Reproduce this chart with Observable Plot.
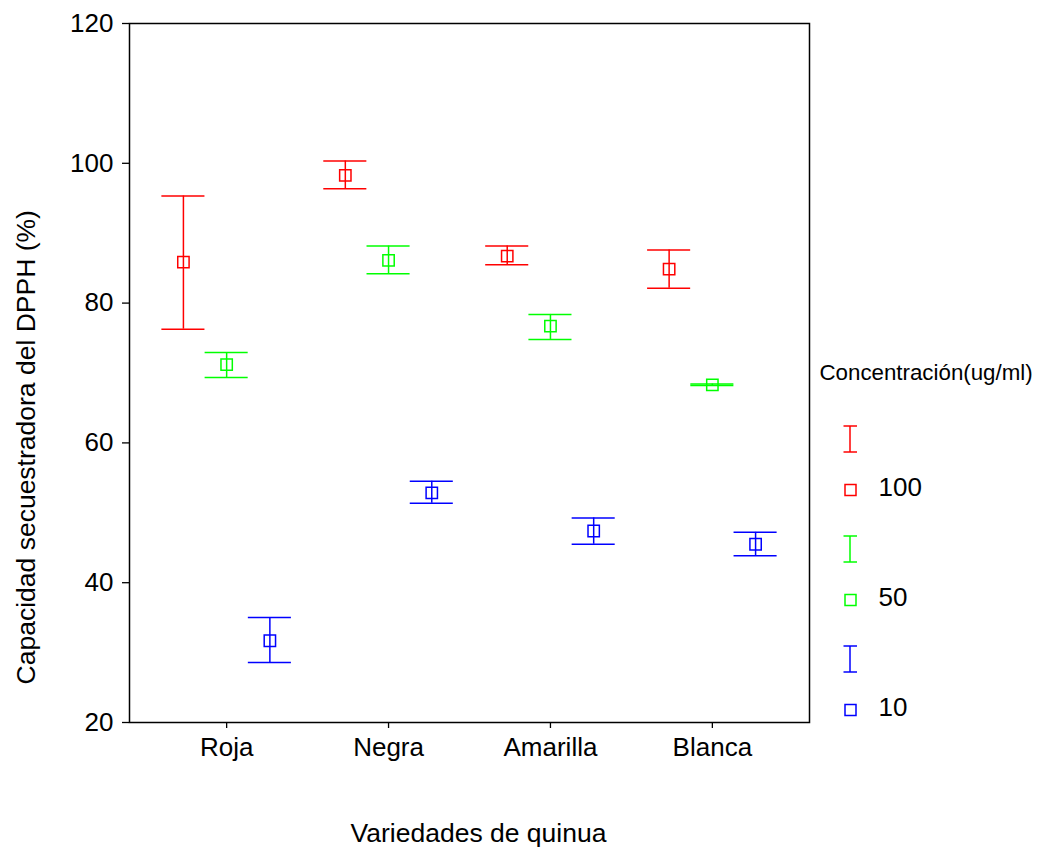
<!DOCTYPE html>
<html>
<head>
<meta charset="utf-8">
<script src="https://cdn.jsdelivr.net/npm/d3@7"></script>
<script src="https://cdn.jsdelivr.net/npm/@observablehq/plot@0.6"></script>
<style>
  html, body { margin: 0; padding: 0; background: white; }
  #wrap { position: relative; width: 1042px; height: 853px; font-family: "Liberation Sans", Arial, sans-serif; color: black; }
  #chart { position: absolute; left: 0; top: 0; }
  .abs { position: absolute; white-space: nowrap; }
</style>
</head>
<body>
<div id="wrap">
  <div id="chart"></div>
</div>
<script>
// ---- data ----
const categories = ["Roja", "Negra", "Amarilla", "Blanca"];
const concentrations = ["100", "50", "10"];
const seriesColors = ["#ff0000", "#00ff00", "#0000ff"];

const mean100  = [85.87, 98.28, 86.72, 84.86];
const lower100 = [76.27, 96.37, 85.49, 82.14];
const upper100 = [95.32, 100.33, 88.16, 87.58];

const mean50  = [71.2, 86.11, 76.7, 68.31];
const lower50 = [69.35, 84.2, 74.8, 68.2];
const upper50 = [72.93, 88.16, 78.38, 68.42];

const mean10  = [31.7, 52.85, 47.4, 45.5];
const lower10 = [28.6, 51.35, 45.5, 43.85];
const upper10 = [35.03, 54.5, 49.27, 47.2];

const yTicks = [20, 40, 60, 80, 100, 120];

const xTitle = "Variedades de quinua";
const yTitle = "Capacidad secuestradora del DPPH (%)";
const legendTitle = "Concentración(ug/ml)";

// ---- build table ----
const seriesMeans = [mean100, mean50, mean10];
const seriesLower = [lower100, lower50, lower10];
const seriesUpper = [upper100, upper50, upper10];
const seriesOffset = [-0.267, 0, 0.267]; // cluster offset within a category
const capHalf = 0.133;

const rows = [];
concentrations.forEach((c, s) => {
  categories.forEach((cat, i) => {
    rows.push({
      cat, conc: c,
      x: i + seriesOffset[s],
      mean: seriesMeans[s][i],
      lo: seriesLower[s][i],
      hi: seriesUpper[s][i]
    });
  });
});

const FS = 26;
const TFS = 26.5;

const chart = Plot.plot({
  width: 1042,
  height: 853,
  marginLeft: 129,
  marginRight: 233,
  marginTop: 23,
  marginBottom: 131,
  style: { fontFamily: "'Liberation Sans', Arial, sans-serif", fontSize: FS + "px", color: "black", background: "white", overflow: "visible" },
  x: { domain: [-0.6, 3.6] },
  y: { domain: [20, 120] },
  color: { domain: concentrations, range: seriesColors },
  marks: [
    Plot.axisY({ ticks: yTicks, tickSize: 7, tickPadding: 9, label: null, strokeWidth: 1.3 }),
    Plot.axisX({ ticks: [0, 1, 2, 3], tickFormat: i => categories[i], tickSize: 6, tickPadding: 9.5, label: null, strokeWidth: 1.3 }),
    Plot.frame({ stroke: "black", strokeWidth: 1.5 }),
    Plot.ruleX(rows, { x: "x", y1: "lo", y2: "hi", stroke: "conc", strokeWidth: 1.5 }),
    Plot.ruleY(rows, { y: "hi", x1: d => d.x - capHalf, x2: d => d.x + capHalf, stroke: "conc", strokeWidth: 1.5 }),
    Plot.ruleY(rows, { y: "lo", x1: d => d.x - capHalf, x2: d => d.x + capHalf, stroke: "conc", strokeWidth: 1.5 }),
    Plot.dot(rows, { x: "x", y: "mean", symbol: "square", r: 6.4, stroke: "conc", fill: "none", strokeWidth: 1.5 })
  ]
});
document.getElementById("chart").appendChild(chart);

// ---- titles and legend (HTML, outside the SVG marks) ----
const wrap = document.getElementById("wrap");
function addText(txt, fs, left, baseline, opts = {}) {
  const d = document.createElement("div");
  d.className = "abs";
  d.textContent = txt;
  d.style.fontSize = fs + "px";
  d.style.lineHeight = fs + "px";
  d.style.top = (baseline - 0.8465 * fs) + "px";
  if (opts.center) {
    d.style.left = (left - 400) + "px";
    d.style.width = "800px";
    d.style.textAlign = "center";
  } else {
    d.style.left = left + "px";
  }
  wrap.appendChild(d);
  return d;
}

// x title
addText(xTitle, TFS, 478.5, 842, { center: true });

// y title (rotated)
{
  const d = document.createElement("div");
  d.className = "abs";
  d.textContent = yTitle;
  d.style.fontSize = TFS + "px";
  d.style.lineHeight = TFS + "px";
  d.style.width = "700px";
  d.style.height = TFS + "px";
  d.style.textAlign = "center";
  const cx = 35 - 0.3465 * TFS, cy = 447.5;
  d.style.left = (cx - 350) + "px";
  d.style.top = (cy - TFS / 2) + "px";
  d.style.transformOrigin = "50% 50%";
  d.style.transform = "rotate(-90deg)";
  wrap.appendChild(d);
}

// legend
addText(legendTitle, 22.3, 819.5, 381);
concentrations.forEach((c, s) => {
  const col = seriesColors[s];
  const base = s * 110;
  // whisker glyph
  const g1 = document.createElementNS("http://www.w3.org/2000/svg", "svg");
  g1.setAttribute("width", 20); g1.setAttribute("height", 34);
  g1.style.position = "absolute";
  g1.style.left = "840px";
  g1.style.top = (422 + base) + "px";
  g1.innerHTML = `<g stroke="${col}" stroke-width="1.5" fill="none">
      <line x1="10" y1="4" x2="10" y2="30"/>
      <line x1="3.5" y1="4" x2="17" y2="4"/>
      <line x1="3.5" y1="30" x2="17" y2="30"/></g>`;
  wrap.appendChild(g1);
  // square glyph
  const g2 = document.createElementNS("http://www.w3.org/2000/svg", "svg");
  g2.setAttribute("width", 20); g2.setAttribute("height", 20);
  g2.style.position = "absolute";
  g2.style.left = "840px";
  g2.style.top = (480 + base) + "px";
  g2.innerHTML = `<rect x="5" y="4.5" width="11" height="11" stroke="${col}" stroke-width="1.5" fill="none"/>`;
  wrap.appendChild(g2);
  addText(c, FS, 878.5, 496 + base);
});
</script>
</body>
</html>
